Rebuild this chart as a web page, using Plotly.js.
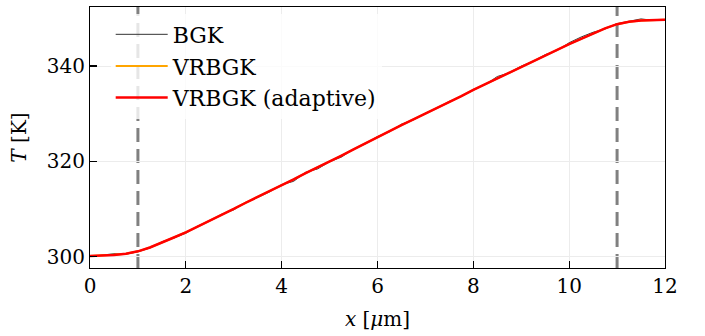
<!DOCTYPE html>
<html>
<head>
<meta charset="utf-8">
<script src="https://cdn.plot.ly/plotly-3.0.1.min.js"></script>
<style>html,body{margin:0;padding:0;background:#fff;}#chart{width:705px;height:336px;}</style>
</head>
<body>
<div id="chart"></div>
<script>
// Position x [µm]
const xPos = [0,0.25,0.5,0.75,1,1.25,1.5,1.75,2,2.25,2.5,2.75,3,3.25,3.5,3.75,4,4.25,4.5,4.75,5,5.25,5.5,5.75,6,6.25,6.5,6.75,7,7.25,7.5,7.75,8,8.25,8.5,8.75,9,9.25,9.5,9.75,10,10.25,10.5,10.75,11,11.25,11.5,11.75,12];
// Temperature T [K]
const tBGK = [300.0,300.3,300.6,300.5,301.0,301.8,303.1,303.9,304.9,306.4,307.5,308.9,309.8,311.4,312.4,313.6,315.1,315.8,317.7,318.4,319.9,320.9,322.6,323.7,325.2,326.2,327.8,328.7,330.1,331.2,332.6,333.6,335.1,336.1,337.8,338.6,340.0,341.0,342.4,343.3,344.9,346.1,347.1,347.8,348.9,349.4,349.9,349.6,349.7];
const tVRBGK = [300.1,300.2,300.4,300.6,301.1,301.9,302.9,304.0,305.1,306.3,307.6,308.8,310.0,311.3,312.5,313.7,315.0,316.2,317.5,318.7,320.0,321.2,322.5,323.8,325.1,326.3,327.6,328.8,330.0,331.3,332.5,333.7,335.0,336.2,337.4,338.7,339.9,341.1,342.3,343.5,344.6,345.7,346.8,347.9,348.8,349.3,349.55,349.65,349.7];
const tAdaptive = [300.1,300.2,300.35,300.6,301.1,301.9,302.9,304.0,305.1,306.3,307.6,308.8,310.0,311.3,312.5,313.7,315.0,316.2,317.5,318.7,320.0,321.2,322.5,323.8,325.1,326.3,327.6,328.8,330.0,331.3,332.5,333.7,335.0,336.2,337.4,338.7,339.9,341.1,342.3,343.5,344.6,345.7,346.8,347.9,348.8,349.3,349.55,349.65,349.7];
const seriesNames = ["BGK","VRBGK","VRBGK (adaptive)"];
const boundaries = [1, 11];
const xTicks = [0,2,4,6,8,10,12];
const yTicks = [300,320,340];

const FONT = "DejaVu Serif";

const traces = [
  {x: xPos, y: tBGK, name: seriesNames[0], mode: "lines", line: {color: "#333333", width: 1}},
  {x: xPos, y: tVRBGK, name: seriesNames[1], mode: "lines", line: {color: "#FFA500", width: 2}},
  {x: xPos, y: tAdaptive, name: seriesNames[2], mode: "lines", line: {color: "#FF0000", width: 2.5}}
];

const shapes = boundaries.map(b => ({
  type: "line", xref: "x", yref: "paper", x0: b, x1: b, y0: 0, y1: 1,
  line: {color: "#808080", width: 3, dash: "14px,7px"}, layer: "between"
}));

const axisCommon = {
  showline: true, linecolor: "#000", linewidth: 1, mirror: true,
  ticks: "inside", ticklen: 7, tickwidth: 1.2, tickcolor: "#000",
  showgrid: true, gridcolor: "#ececec", gridwidth: 1, zeroline: false,
  tickfont: {family: FONT, size: 20, color: "#000"}
};

const layout = {
  width: 705, height: 336,
  margin: {l: 90, r: 40, t: 7, b: 68},
  paper_bgcolor: "#fff", plot_bgcolor: "#fff",
  font: {family: FONT, color: "#000"},
  showlegend: true,
  legend: {x: 0.036, y: 0.975, xanchor: "left", yanchor: "top",
    bgcolor: "rgba(255,255,255,0.8)", borderwidth: 0,
    font: {family: FONT, size: 22, color: "#000"}, itemwidth: 52, tracegroupgap: 0},
  xaxis: Object.assign({}, axisCommon, {
    range: [0, 12], tickvals: xTicks, ticktext: xTicks.map(String),
    title: {text: "<i>x</i> [<i>μ</i>m]", font: {family: FONT, size: 20, color: "#000"}, standoff: 14}
  }),
  yaxis: Object.assign({}, axisCommon, {
    range: [297.6, 352.4], tickvals: yTicks, ticktext: yTicks.map(String),
    title: {text: "<i>T</i> [K]", font: {family: FONT, size: 20, color: "#000"}, standoff: 14}
  }),
  shapes: shapes
};

Plotly.newPlot("chart", traces, layout, {displayModeBar: false, staticPlot: true});
</script>
</body>
</html>
